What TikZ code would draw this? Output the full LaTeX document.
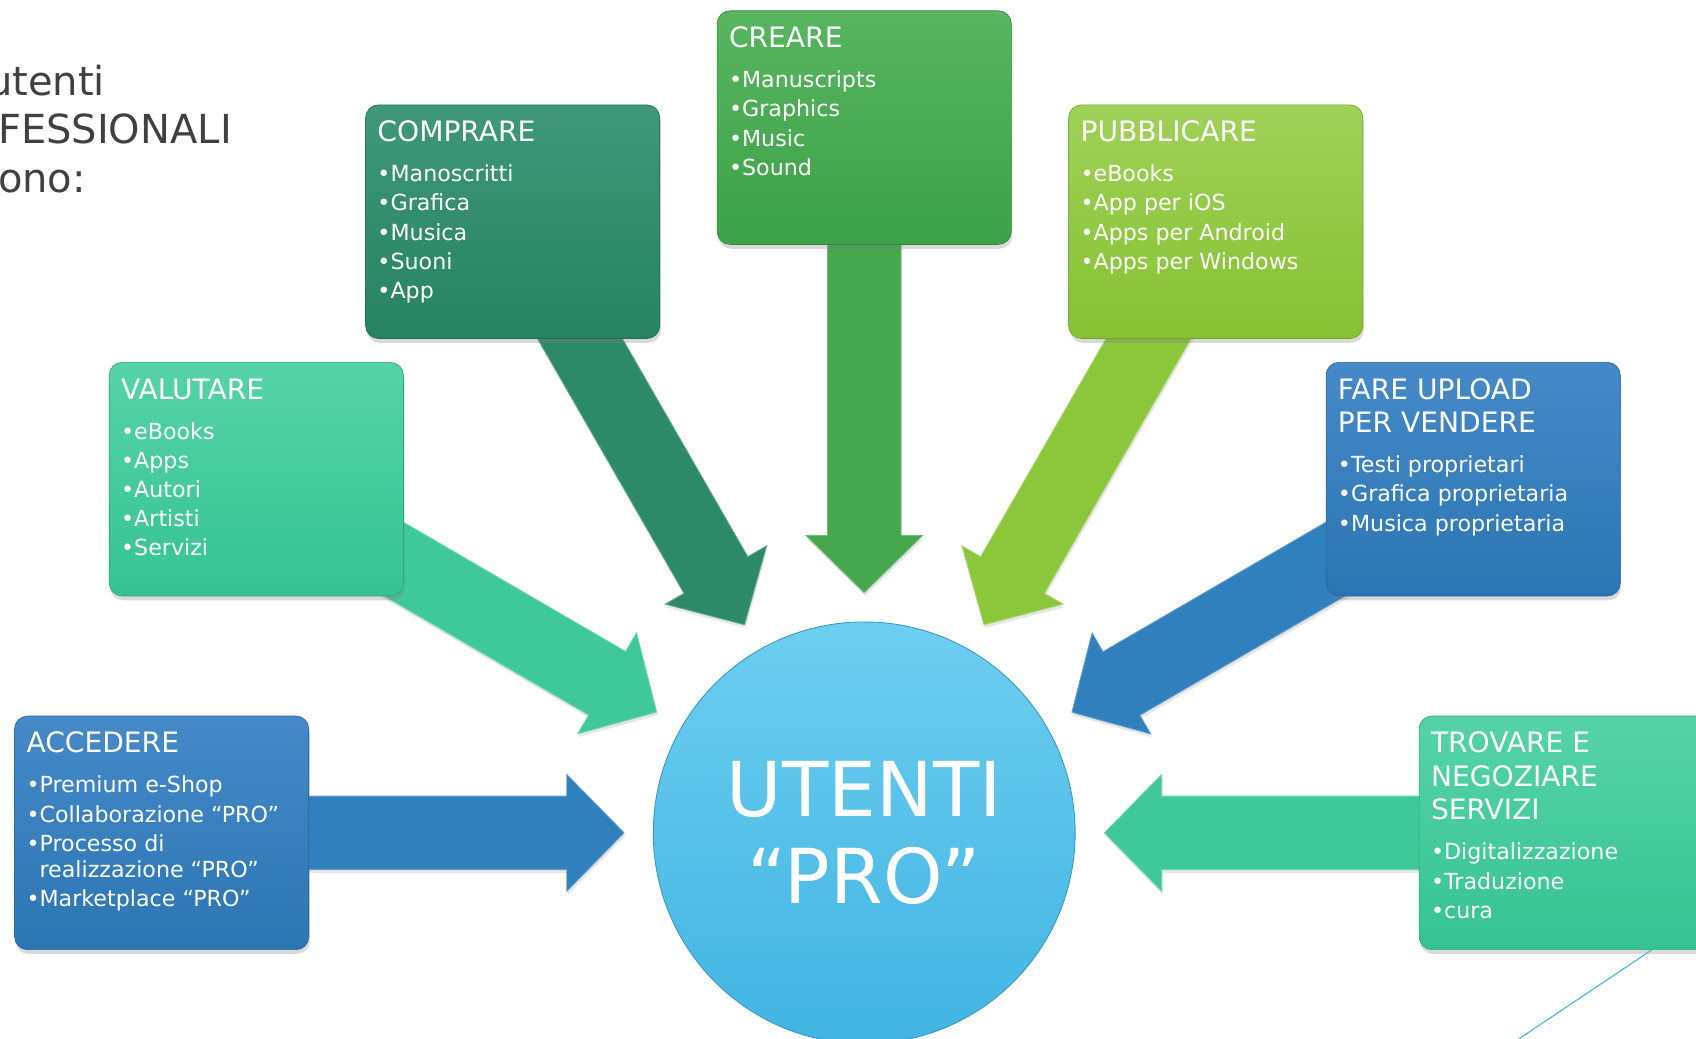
\documentclass[tikz,border=0pt]{standalone}
\usepackage{fontspec}
\setmainfont{DejaVu Sans}
\usepackage{xcolor}
\usetikzlibrary{calc,shadows,backgrounds}

\definecolor{creaA}{HTML}{58B560}
\definecolor{creaB}{HTML}{3CA149}
\definecolor{creaF}{HTML}{45A84F}
\definecolor{compraA}{HTML}{40977A}
\definecolor{compraB}{HTML}{26835F}
\definecolor{compraF}{HTML}{2D8A66}
\definecolor{pubblicaA}{HTML}{9FD158}
\definecolor{pubblicaB}{HTML}{86C132}
\definecolor{pubblicaF}{HTML}{8CC63B}
\definecolor{valutaA}{HTML}{56D3A6}
\definecolor{valutaB}{HTML}{35C393}
\definecolor{valutaF}{HTML}{3FC99A}
\definecolor{bluA}{HTML}{4689C8}
\definecolor{bluB}{HTML}{2B76B2}
\definecolor{bluF}{HTML}{3180BE}
\definecolor{hubA}{HTML}{6DCEF0}
\definecolor{hubB}{HTML}{41B4E2}
\definecolor{grigioTesto}{HTML}{404040}

\newlength\bulw
\newcommand{\voce}[1]{\par\hangindent=\bulw\hangafter=1\relax •#1}
\newcommand{\contenuto}[2]{\parbox[t][194pt][t]{250pt}{\raggedright
  \fontsize{26}{31}\selectfont\rule{0pt}{23pt}#1\par\vspace{10pt}
  \fontsize{20.5}{24}\selectfont\settowidth{\bulw}{•}\parskip=3pt #2}}
\newcommand{\freccia}[2]{%
  \coordinate (punta) at ($(hub)!222pt!(#1)$);
  \coordinate (base) at ($(punta)!53pt!(#1)$);
  \fill[freccia=#2] ($(#1)!34pt!90:(punta)$) -- ($(base)!34pt!-90:(#1)$)
    -- ($(base)!54pt!-90:(#1)$) -- (punta) -- ($(base)!54pt!90:(#1)$)
    -- ($(base)!34pt!90:(#1)$) -- ($(#1)!34pt!-90:(punta)$) -- cycle;}

\begin{document}
\begin{tikzpicture}[x=1pt,y=1pt,
    riquadro/.style 2 args={rounded corners=12pt, top color=#1, bottom color=#2,
      draw=#2!85!black, line width=0.6pt, text=white, inner sep=11pt,
      drop shadow={opacity=0.3,shadow xshift=1pt,shadow yshift=-4pt}},
    freccia/.style={fill=#1, draw=#1!75!white, line width=0.8pt,
      drop shadow={opacity=0.2,shadow xshift=1pt,shadow yshift=-3pt}},
    titolo/.style={anchor=base west, text=grigioTesto, inner sep=0pt,
      font=\fontsize{37}{45}\selectfont},
    hub/.style={circle, minimum size=390pt, inner sep=0pt, top color=hubA,
      bottom color=hubB, draw=hubB!85!black, line width=0.8pt, text=white,
      align=center, font=\fontsize{70}{80}\selectfont}]
  \useasboundingbox (0,0) rectangle (1568,960);

  \node [titolo] (riga1) at (-12,872) {utenti};
  \node [titolo] (riga2) at (-2,827) {FESSIONALI};
  \node [titolo] (riga3) at (-2,782) {ono:};

  \node [riquadro={creaA}{creaB}] (creare) at (799,842)
    {\contenuto{CREARE}{\voce{Manuscripts}\voce{Graphics}\voce{Music}\voce{Sound}}};
  \node [riquadro={compraA}{compraB}] (comprare) at (474,755)
    {\contenuto{COMPRARE}{\voce{Manoscritti}\voce{Grafica}\voce{Musica}\voce{Suoni}\voce{App}}};
  \node [riquadro={pubblicaA}{pubblicaB}] (pubblicare) at (1124,755)
    {\contenuto{PUBBLICARE}{\voce{eBooks}\voce{App per iOS}\voce{Apps per Android}\voce{Apps per Windows}}};
  \node [riquadro={valutaA}{valutaB}] (valutare) at (237,517)
    {\contenuto{VALUTARE}{\voce{eBooks}\voce{Apps}\voce{Autori}\voce{Artisti}\voce{Servizi}}};
  \node [riquadro={bluA}{bluB}] (upload) at (1362,517)
    {\contenuto{FARE UPLOAD\\PER VENDERE}{\voce{Testi proprietari}\voce{Grafica proprietaria}\voce{Musica proprietaria}}};
  \node [riquadro={bluA}{bluB}] (accedere) at (149.5,190)
    {\contenuto{ACCEDERE}{\voce{Premium e-Shop}\voce{Collaborazione “PRO”}\voce{Processo di realizzazione “PRO”}\voce{Marketplace “PRO”}}};
  \node [riquadro={valutaA}{valutaB}] (trovare) at (1448,190)
    {\contenuto{TROVARE E\\NEGOZIARE\\SERVIZI}{\voce{Digitalizzazione}\voce{Traduzione}\voce{cura}}};

  \node [hub] (hub) at (799,190) {UTENTI\\“PRO”};

  \begin{scope}[on background layer]
    \freccia{creare}{creaF}
    \freccia{comprare}{compraF}
    \freccia{pubblicare}{pubblicaF}
    \freccia{valutare}{valutaF}
    \freccia{upload}{bluF}
    \freccia{accedere}{bluF}
    \freccia{trovare}{valutaF}
  \end{scope}

  \coordinate (angolo) at (1390,-10);
  \draw [hubB, line width=1pt] ([xshift=79pt]trovare.south) -- (angolo);
\end{tikzpicture}
\end{document}
